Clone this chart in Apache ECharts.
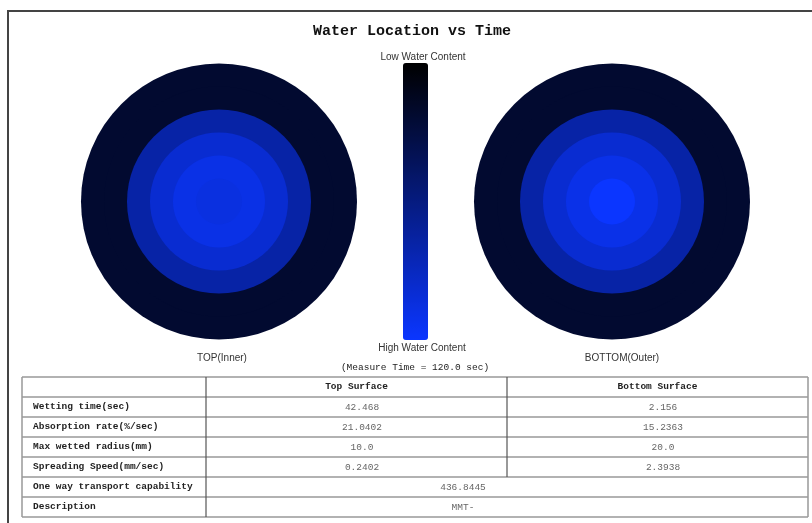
<!DOCTYPE html>
<html>
<head>
<meta charset="utf-8">
<script src="https://cdn.jsdelivr.net/npm/echarts@6/dist/echarts.min.js"></script>
<style>html,body{margin:0;padding:0;background:#fff}#main{width:812px;height:523px}</style>
</head>
<body>
<div id="main"></div>
<script>
// ring outer radius (ring units) and water content 0 (dry) .. 1 (wet), centre outwards
var ringRadii = [1, 2, 3, 4, 5, 6];
var topWater = [0.88, 0.90, 0.82, 0.65, 0.19, 0.19];
var bottomWater = [1.0, 0.91, 0.82, 0.65, 0.19, 0.19];

// table
var rowLabels = ['Wetting time(sec)', 'Absorption rate(%/sec)', 'Max wetted radius(mm)',
    'Spreading Speed(mm/sec)', 'One way transport capability', 'Description'];
var colHeaders = ['Top Surface', 'Bottom Surface'];
var topValues = ['42.468', '21.0402', '10.0', '0.2402'];
var bottomValues = ['2.156', '15.2363', '20.0', '2.3938'];
var mergedValues = ['436.8445', 'MMT-'];

var mono = 'Liberation Mono';
var sans = 'Liberation Sans';

function txt(x, y, s, opt) {
    opt = opt || {};
    return {
        type: 'text', x: x, y: y, silent: true,
        style: {
            text: s, fill: opt.color || '#222', align: opt.align || 'center', verticalAlign: 'middle',
            font: (opt.bold ? 'bold ' : '') + (opt.size || 9.5) + 'px "' + (opt.family || mono) + '"'
        }
    };
}
function line(x1, y1, x2, y2, color, w) {
    return { type: 'line', silent: true, shape: { x1: x1, y1: y1, x2: x2, y2: y2 },
        style: { stroke: color, lineWidth: w || 1 } };
}

function buildGraphic() {
    var g = [];
    g.push({ type: 'rect', silent: true, shape: { x: 8, y: 11, width: 830, height: 540 },
        style: { fill: 'none', stroke: '#444', lineWidth: 2 } });
    g.push(txt(415, 367, '(Measure Time = 120.0 sec)', { size: 9.5 }));
    g.push(txt(423, 57, 'Low Water Content', { family: sans, size: 10, color: '#333' }));
    g.push(txt(422, 348, 'High Water Content', { family: sans, size: 10, color: '#333' }));
    g.push(txt(222, 358, 'TOP(Inner)', { family: sans, size: 10, color: '#333' }));
    g.push(txt(622, 358, 'BOTTOM(Outer)', { family: sans, size: 10, color: '#333' }));

    // table
    var x0 = 22, x1 = 206, x2 = 507, x3 = 808, y0 = 377, rh = 20;
    var nRows = rowLabels.length + 1;
    for (var r = 0; r <= nRows; r++) {
        g.push(line(x0, y0 + r * rh, x3, y0 + r * rh, '#999', 1.5));
    }
    g.push(line(x0, y0, x0, y0 + nRows * rh, '#999', 1.5));
    g.push(line(x3, y0, x3, y0 + nRows * rh, '#999', 1.5));
    g.push(line(x1, y0, x1, y0 + nRows * rh, '#555', 1.2));
    g.push(line(x2, y0, x2, y0 + (topValues.length + 1) * rh, '#555', 1.2));

    g.push(txt((x1 + x2) / 2, y0 + rh / 2, colHeaders[0], { bold: true }));
    g.push(txt((x2 + x3) / 2, y0 + rh / 2, colHeaders[1], { bold: true }));
    for (var i = 0; i < rowLabels.length; i++) {
        var cy = y0 + (i + 1) * rh + rh / 2;
        g.push(txt(33, cy, rowLabels[i], { bold: true, align: 'left' }));
        if (i < topValues.length) {
            g.push(txt(362, cy, topValues[i], { color: '#666' }));
            g.push(txt(663, cy, bottomValues[i], { color: '#666' }));
        } else {
            g.push(txt(463, cy, mergedValues[i - topValues.length], { color: '#666' }));
        }
    }
    return g;
}

var hiddenAxis = {
    axisLine: { show: false }, axisTick: { show: false }, axisLabel: { show: false },
    splitLine: { show: false }, splitArea: { show: false }
};
function radiusAxis(idx) {
    return Object.assign({ polarIndex: idx, type: 'value', min: 0, max: ringRadii[ringRadii.length - 1] }, hiddenAxis);
}
function angleAxis(idx) {
    return Object.assign({ polarIndex: idx, type: 'category', data: ['disk'] }, hiddenAxis);
}

// one disk per ring, outermost first so smaller disks sit on top
var series = [];
var seriesIdx = [];
[topWater, bottomWater].forEach(function (water, p) {
    for (var i = ringRadii.length - 1; i >= 0; i--) {
        seriesIdx.push(series.length);
        series.push({
            type: 'bar', coordinateSystem: 'polar', polarIndex: p,
            barCategoryGap: '0%', barGap: '-100%', silent: true,
            encode: { angle: 0, radius: 1 },
            data: [['disk', ringRadii[i], water[i]]]
        });
    }
});

var chart = echarts.init(document.getElementById('main'));
chart.setOption({
    backgroundColor: '#fff',
    animation: false,
    title: {
        text: 'Water Location vs Time', left: 313, top: 24, padding: 0,
        textStyle: { fontFamily: mono, fontWeight: 'bold', fontSize: 15, color: '#111' }
    },
    polar: [
        { center: [219, 201.5], radius: 138 },
        { center: [612, 201.5], radius: 138 }
    ],
    radiusAxis: [radiusAxis(0), radiusAxis(1)],
    angleAxis: [angleAxis(0), angleAxis(1)],
    visualMap: {
        type: 'continuous', min: 0, max: 1, inverse: true, calculable: false,
        seriesIndex: seriesIdx, dimension: 2,
        itemWidth: 25, itemHeight: 277, left: 403, top: 63, padding: 0,
        text: null, showLabel: false,
        inRange: { color: ['#000000', '#0b36ff'] }
    },
    series: series,
    graphic: buildGraphic()
});
</script>
</body>
</html>
